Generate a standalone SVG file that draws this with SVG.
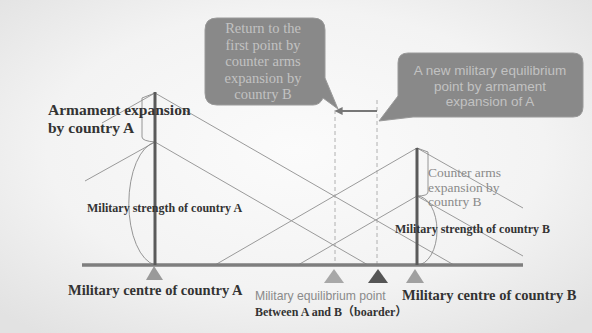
<svg xmlns="http://www.w3.org/2000/svg" width="592" height="333" viewBox="0 0 592 333">
<defs>
<radialGradient id="bg" cx="0.5" cy="0.45" r="0.7">
<stop offset="0" stop-color="#fbfbfb"/>
<stop offset="0.6" stop-color="#f3f3f3"/>
<stop offset="1" stop-color="#e2e2e2"/>
</radialGradient>
<marker id="ah" viewBox="0 0 10 10" refX="2" refY="5" markerWidth="4" markerHeight="4" orient="auto-start-reverse">
<path d="M0,0 L10,5 L0,10 z" fill="#777"/>
</marker>
<style>
.thin{stroke:#9a9a9a;stroke-width:1;fill:none}
.pole{stroke:#5a5a5a;stroke-width:3}
.dash{stroke:#a0a0a0;stroke-width:0.8;stroke-dasharray:4 3;fill:none}
.br{stroke:#8a8a8a;stroke-width:0.9;fill:none}
.callout{fill:#898989;stroke:#9a9a9a;stroke-width:1}
.ct{font-family:"Liberation Serif",serif;font-size:14.5px;fill:#c2c2c2;text-anchor:middle}
.cs{font-family:"Liberation Sans",sans-serif;font-size:13.5px;fill:#c2c2c2;text-anchor:middle}
.bold{font-family:"Liberation Serif",serif;font-weight:bold;fill:#333}
.gray{font-family:"Liberation Serif",serif;fill:#8a8a8a;font-size:13.5px}
</style>
</defs>
<rect x="0" y="0" width="592" height="333" fill="url(#bg)"/>

<g id="connectors">
<line class="thin" x1="155" y1="93" x2="454" y2="265"/>
<line class="thin" x1="155" y1="93" x2="102" y2="123"/>
<line class="thin" x1="155" y1="142" x2="368" y2="265"/>
<line class="thin" x1="155" y1="142" x2="85" y2="181"/>
<line class="thin" x1="417" y1="148" x2="215" y2="265"/>
<line class="thin" x1="417" y1="148" x2="523" y2="208"/>
<line class="thin" x1="417" y1="196" x2="298" y2="265"/>
<line class="thin" x1="417" y1="196" x2="523" y2="256"/>
<line class="dash" x1="335" y1="110" x2="335" y2="265"/>
<line class="dash" x1="377" y1="100" x2="377" y2="265"/>
<line x1="377" y1="111" x2="341" y2="111" stroke="#777" stroke-width="2" marker-end="url(#ah)"/>
<path class="br" d="M155,93 L142,98 L142,137 Q142,141 155,142"/>
<path class="br" d="M155,142 A30 62 0 0 0 155,265"/>
<path class="br" d="M417,148 L428,152 L428,192 Q428,196 417,196"/>
<path class="br" d="M417,196 A20 34.5 0 0 1 417,265"/>
</g>

<g id="baseline">
<line x1="82" y1="265" x2="523" y2="265" stroke="#7e7e7e" stroke-width="3.5"/>
</g>

<g id="countryA">
<line class="pole" x1="155" y1="92" x2="155" y2="265"/>
<polygon points="154,266 146,280 163,280" fill="#9a9a9a"/>
<text class="bold" x="48" y="115" font-size="15.5">Armament expansion</text>
<text class="bold" x="48" y="133" font-size="15.5">by country A</text>
<text class="bold" x="87" y="212" font-size="12">Military strength of country A</text>
<text class="bold" x="68" y="295" font-size="14.5">Military centre of country A</text>
</g>

<g id="countryB">
<line class="pole" x1="417" y1="148" x2="417" y2="265"/>
<polygon points="415,269 406,283 424,283" fill="#a0a0a0"/>
<text class="gray" x="428" y="177">Counter arms</text>
<text class="gray" x="428" y="191.5">expansion by</text>
<text class="gray" x="428" y="206">country B</text>
<text class="bold" x="395" y="233" font-size="12">Military strength of country B</text>
<text class="bold" x="402" y="300" font-size="14.5">Military centre of country B</text>
</g>

<g id="equilibrium">
<polygon points="334,269 324,283 344,283" fill="#a8a8a8"/>
<polygon points="378,269 368,283 388,283" fill="#555"/>
<text x="255" y="300" font-family="Liberation Sans, sans-serif" font-size="12.2" fill="#8a8a8a">Military equilibrium point</text>
<text class="bold" x="255" y="316" font-size="12">Between A and B<tspan font-family="Liberation Serif, Noto Sans CJK SC, serif">（boarder）</tspan></text>
</g>

<g id="callout1">
<path class="callout" d="M217,18 H313 Q325,18 325,30 V78 L338,109 L323,98 Q320,105 313,105 H217 Q205,105 205,93 V30 Q205,18 217,18 Z"/>
<text class="ct" x="263" y="33">Return to the</text>
<text class="ct" x="263" y="49.5">first point by</text>
<text class="ct" x="263" y="66">counter arms</text>
<text class="ct" x="263" y="82.5">expansion by</text>
<text class="ct" x="263" y="99">country B</text>
</g>

<g id="callout2">
<path class="callout" d="M408,53 H573 Q583,53 583,63 V107 Q583,117 573,117 H413 L379,121 L398,96 V63 Q398,53 408,53 Z"/>
<text class="cs" x="490" y="75">A new military equilibrium</text>
<text class="cs" x="490" y="90.5">point by armament</text>
<text class="cs" x="490" y="106">expansion of A</text>
</g>
</svg>
